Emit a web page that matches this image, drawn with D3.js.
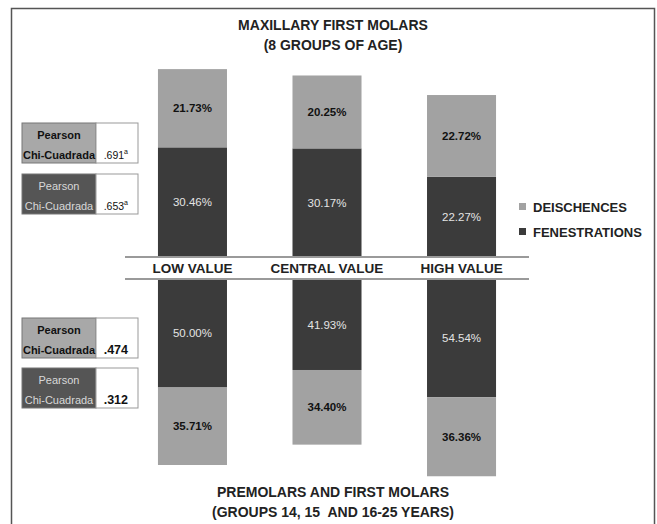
<!DOCTYPE html>
<html>
<head>
<meta charset="utf-8">
<script src="https://cdn.jsdelivr.net/npm/d3@7"></script>
<style>
  body { margin: 0; background: #fff; }
  svg { display: block; }
  text { font-family: "Liberation Sans", Arial, sans-serif; }
</style>
</head>
<body>
<div id="plot"></div>
<script>
// data
const categories = ['LOW VALUE', 'CENTRAL VALUE', 'HIGH VALUE'];
const series = ['DEISCHENCES', 'FENESTRATIONS'];
const upperDeis = [21.73, 20.25, 22.72];
const upperFen  = [30.46, 30.17, 22.27];
const lowerFen  = [50.00, 41.93, 54.54];
const lowerDeis = [35.71, 34.40, 36.36];
const chiUpper = ['.691', '.653'];
const chiUpperSup = ['a', 'a'];
const chiLower = ['.474', '.312'];
const titleTop = ['MAXILLARY FIRST MOLARS', '(8 GROUPS OF AGE)'];
const titleBottom = ['PREMOLARS AND FIRST MOLARS', '(GROUPS 14, 15  AND 16-25 YEARS)'];

const W = 657, H = 524;
const colDeis = '#a2a2a2', colFen = '#3b3b3b';
const bandTop = 257, bandBot = 279;

const svg = d3.select('#plot').append('svg')
  .attr('width', W).attr('height', H);

// frame
svg.append('rect')
  .attr('x', 11.5).attr('y', 8.5).attr('width', 643).attr('height', 530)
  .attr('fill', 'none').attr('stroke', '#555').attr('stroke-width', 1.5);

const x = d3.scaleBand().domain(categories).range([125, 529])
  .paddingInner(0.487).paddingOuter(0.245);
const yUp = d3.scaleLinear().domain([0, 60]).range([bandTop, bandTop - 216]);
const yDn = d3.scaleLinear().domain([0, 100]).range([bandBot, bandBot + 217]);

// stacked bars --------------------------------------------------
function stack(y, first, second, colFirst, colSecond) {
  const rows = categories.map((c, i) => {
    const a = first[i], b = second[i];
    return [
      { c, v: a, y0: 0, y1: a, fill: colFirst },
      { c, v: b, y0: a, y1: a + b, fill: colSecond }
    ];
  }).flat();
  const g = svg.append('g');
  g.selectAll('rect').data(rows).join('rect')
    .attr('x', d => x(d.c))
    .attr('width', x.bandwidth())
    .attr('y', d => Math.min(y(d.y0), y(d.y1)))
    .attr('height', d => Math.abs(y(d.y1) - y(d.y0)))
    .attr('fill', d => d.fill);
  g.selectAll('text').data(rows).join('text')
    .attr('x', d => x(d.c) + x.bandwidth() / 2)
    .attr('y', d => (y(d.y0) + y(d.y1)) / 2)
    .attr('dy', '0.35em')
    .attr('text-anchor', 'middle')
    .attr('font-size', 11.5)
    .attr('font-weight', d => d.fill === colDeis ? 'bold' : 'normal')
    .attr('fill', d => d.fill === colDeis ? '#111' : '#e4e4e4')
    .text(d => d.v.toFixed(2) + '%');
}
stack(yUp, upperFen, upperDeis, colFen, colDeis);
stack(yDn, lowerFen, lowerDeis, colFen, colDeis);

// central band with category labels ------------------------------
const band = svg.append('g');
band.append('rect')
  .attr('x', x.range()[0]).attr('y', bandTop)
  .attr('width', x.range()[1] - x.range()[0]).attr('height', bandBot - bandTop)
  .attr('fill', '#fff');
[bandTop, bandBot].forEach(yy => band.append('line')
  .attr('x1', x.range()[0]).attr('x2', x.range()[1])
  .attr('y1', yy).attr('y2', yy)
  .attr('stroke', '#9a9a9a').attr('stroke-width', 2));
band.selectAll('text').data(categories).join('text')
  .attr('x', d => x(d) + x.bandwidth() / 2)
  .attr('y', (bandTop + bandBot) / 2 + 5)
  .attr('text-anchor', 'middle')
  .attr('font-size', 13.5).attr('font-weight', 'bold').attr('fill', '#222')
  .text(d => d);

// titles ---------------------------------------------------------
function title(lines, y0) {
  svg.append('g').selectAll('text').data(lines).join('text')
    .attr('x', 333).attr('y', (d, i) => y0 + i * 20)
    .attr('text-anchor', 'middle')
    .attr('font-size', 14).attr('font-weight', 'bold').attr('fill', '#222')
    .style('white-space', 'pre')
    .text(d => d);
}
title(titleTop, 30);
title(titleBottom, 497);

// legend ---------------------------------------------------------
const leg = svg.append('g').selectAll('g').data(series).join('g')
  .attr('transform', (d, i) => `translate(519,${207 + i * 25})`);
leg.append('rect')
  .attr('x', 0).attr('y', -4).attr('width', 7).attr('height', 7)
  .attr('fill', (d, i) => i ? colFen : colDeis);
leg.append('text')
  .attr('x', 14).attr('y', 0).attr('dy', '0.35em')
  .attr('font-size', 13).attr('font-weight', 'bold').attr('fill', '#222')
  .text(d => d);

// Pearson chi-square boxes ----------------------------------------
function chiBox(y0, i, val, sup, boldVal) {
  const g = svg.append('g').attr('transform', `translate(22,${y0})`);
  const dark = i === 1;
  g.append('rect').attr('width', 74).attr('height', 40)
    .attr('fill', dark ? '#555' : '#a8a8a8')
    .attr('stroke', '#777').attr('stroke-width', 1);
  g.append('rect').attr('x', 74).attr('width', 42).attr('height', 40)
    .attr('fill', '#fff').attr('stroke', '#999').attr('stroke-width', 1);
  g.selectAll('text.lab').data(['Pearson', 'Chi-Cuadrada']).join('text')
    .attr('class', 'lab')
    .attr('x', 37).attr('y', (d, k) => 16 + k * 20)
    .attr('text-anchor', 'middle')
    .attr('font-size', 11).attr('font-weight', dark ? 'normal' : 'bold')
    .attr('fill', dark ? '#d8d8d8' : '#111')
    .text(d => d);
  const t = g.append('text')
    .attr('x', 106).attr('y', 36)
    .attr('text-anchor', 'end')
    .attr('font-size', boldVal ? 12.5 : 10.5)
    .attr('font-weight', boldVal ? 'bold' : 'normal')
    .attr('fill', '#111')
    .text(val);
  if (sup) t.append('tspan').attr('dy', -5).attr('font-size', 7).text(sup);
}
chiUpper.forEach((v, i) => chiBox(123 + i * 51, i, v, chiUpperSup[i], false));
chiLower.forEach((v, i) => chiBox(318 + i * 50, i, v, null, true));
</script>
</body>
</html>
